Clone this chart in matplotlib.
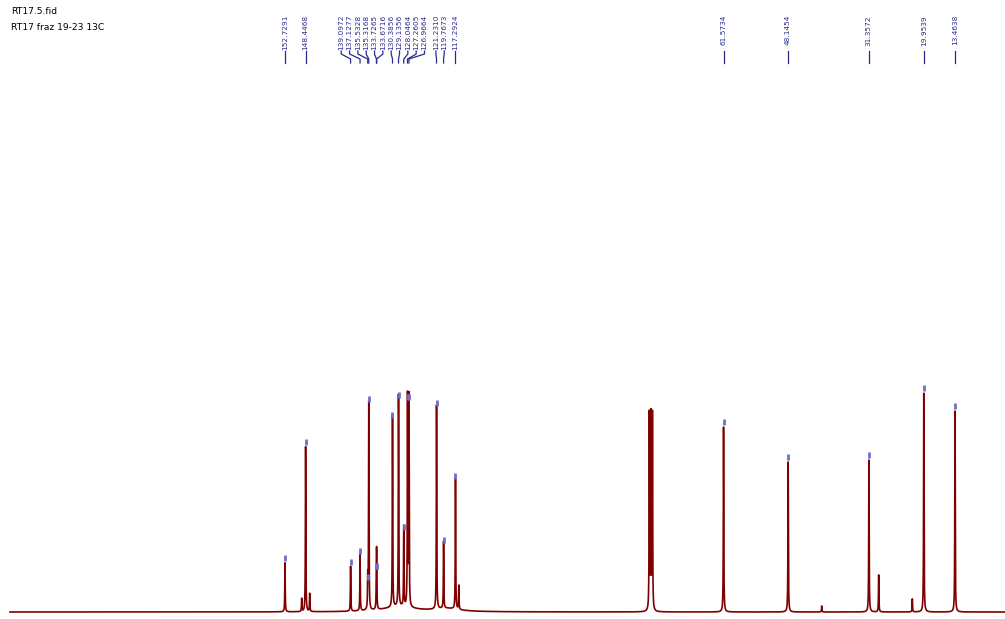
import numpy as np
import matplotlib
matplotlib.use("Agg")
import matplotlib.pyplot as plt

# 13C 스펙트럼 피크 목록 (ppm, 높이)
peak_ppm = [152.7291, 148.4468, 139.0972, 137.1277, 135.5328, 135.3168, 133.7265, 133.6716,
            130.3856, 129.1356, 128.0464, 127.2605, 126.9664, 121.2310, 119.7673, 117.2924,
            61.5734, 48.1454, 31.3572, 19.9539, 13.4638]
peak_height = [49, 165, 45, 56, 30, 208, 41, 41,
               192, 212, 80, 210, 210, 204, 67, 131,
               185, 150, 152, 219, 201]
# 라벨 없는 피크 (용매, 불순물)
extra_ppm = [77.0, 76.68, 76.36, 149.26, 147.6, 116.6, 41.17, 29.33, 22.34]
extra_height = [196, 194, 196, 13, 18, 24, 6, 37, 13]
# 방향족 영역 완만한 baseline
hump_ppm = [129.0, 119.0]
hump_height = [5, 3]
hump_width = [4.0, 3.0]

title_lines = ["RT17.5.fid", "RT17 fraz 19-23 13C"]

# 픽셀 <-> ppm 변환 (그림 폭 1005px)
px_per_ppm = 4.811
ppm_left = 152.7291 + 285 / px_per_ppm
ppm_right = 152.7291 - 720 / px_per_ppm

ppm = np.linspace(ppm_left - 10 / px_per_ppm, ppm_right, 60000)
spec = np.zeros_like(ppm)
g = 0.05
for p, h in zip(peak_ppm + extra_ppm, peak_height + extra_height):
    spec += h * g**2 / ((ppm - p)**2 + g**2)
for p, h, w in zip(hump_ppm, hump_height, hump_width):
    spec += h * w**2 / ((ppm - p)**2 + w**2)

fig = plt.figure(figsize=(10.05, 6.19), dpi=100)
ax = fig.add_axes([0, 0, 1, 1])
ax.set_xlim(ppm_left, ppm_right)
ax.set_ylim(-7, 612)
ax.axis("off")

ax.plot(ppm, spec, color="#7f0000", lw=1.2)

navy = "#2a2a8c"
# 피크 위 작은 마커
for p, h in zip(peak_ppm, peak_height):
    ax.plot([p, p], [h + 2, h + 8], color="#6f6fc8", lw=2.0, solid_capstyle="butt")

# 라벨 위치 겹치지 않게 배치 (픽셀 단위)
spacing = 8.33
pk_px = [(ppm_left - p) * px_per_ppm for p in peak_ppm]
order = np.argsort(pk_px)
clusters = [[i] for i in order]
changed = True
while changed:
    changed = False
    pos = []
    for c in clusters:
        center = np.mean([pk_px[i] for i in c])
        pos.append(center - spacing * (len(c) - 1) / 2)
    for k in range(len(clusters) - 1):
        end_k = pos[k] + spacing * (len(clusters[k]) - 1)
        if pos[k + 1] - end_k < spacing:
            clusters[k] = clusters[k] + clusters[k + 1]
            del clusters[k + 1]
            changed = True
            break
label_px = {}
for c in clusters:
    center = np.mean([pk_px[i] for i in c])
    start = center - spacing * (len(c) - 1) / 2
    for j, i in enumerate(c):
        label_px[i] = start + spacing * j

for i, p in enumerate(peak_ppm):
    lx = ppm_left - label_px[i] / px_per_ppm
    ax.text(lx, 612 - 15, f"{p:.4f}", rotation=90, ha="center", va="top",
            fontsize=5.3, color=navy, family="DejaVu Sans")
    xs = [lx, lx, p, p]
    ys = [612 - 51, 612 - 54, 612 - 59, 612 - 63]
    ax.plot(xs, ys, color=navy, lw=0.9)

fig.text(11 / 1005, 1 - 12 / 619, title_lines[0], fontsize=6.6, va="center", ha="left")
fig.text(11 / 1005, 1 - 27 / 619, title_lines[1], fontsize=6.6, va="center", ha="left")

fig.savefig("out.png", dpi=100)
